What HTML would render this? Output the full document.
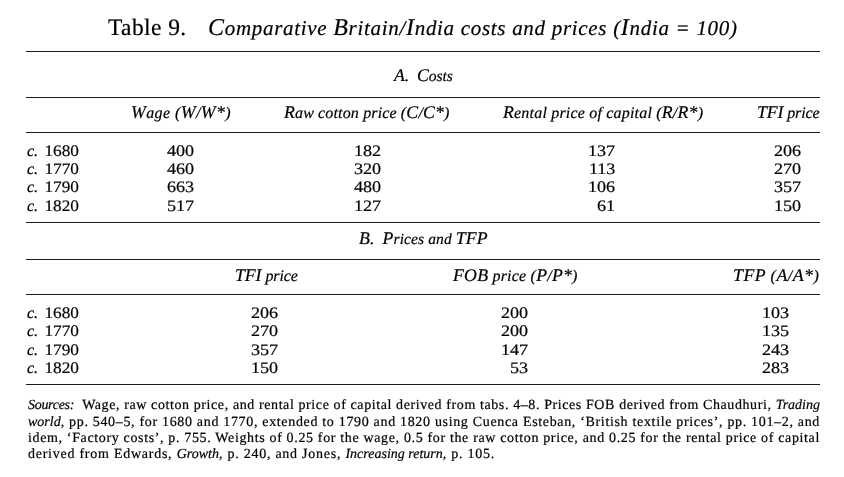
<!DOCTYPE html>
<html><head><meta charset="utf-8">
<style>
html,body{margin:0;padding:0;background:#fff;}
body{width:844px;height:477px;position:relative;overflow:hidden;font-family:"Liberation Serif",serif;text-rendering:geometricPrecision;color:#000;}
.r{position:absolute;left:26px;width:794px;height:1px;background:#1a1a1a;}
.e{position:absolute;white-space:nowrap;line-height:1;will-change:transform;-webkit-text-stroke:0.2px #000;}
.C{line-height:0;}
.s{position:absolute;white-space:nowrap;line-height:1;font-size:14px;will-change:transform;-webkit-text-stroke:0.2px #000;text-align:justify;text-align-last:justify;letter-spacing:0.747px;word-spacing:0.000px;}
.s.last{text-align-last:left;}
.s i{letter-spacing:0.000px;}
.s i.so{letter-spacing:-0.300px;}
</style></head><body>
<div class="e" id="t1" style="top:17.0px;font-size:23.5px;left:108.00px;letter-spacing:0.400px">Table 9.</div>
<div class="e" id="t2" style="top:17.5px;font-size:21px;font-style:italic;left:208.00px;letter-spacing:0.695px"><span class="C" style="font-size:24px">C</span>omparative <span class="C" style="font-size:24px">B</span>ritain/<span class="C" style="font-size:24px">I</span>ndia costs and prices (<span class="C" style="font-size:24px">I</span>ndia = 100)</div>
<div class="e" id="secA" style="top:68.5px;font-size:15.5px;font-style:italic;left:394.00px;letter-spacing:-0.025px"><span class="C" style="font-size:17.8px">A.</span>&nbsp; <span class="C" style="font-size:17.8px">C</span>osts</div>
<div class="e" id="hA1" style="top:106.4px;font-size:16px;font-style:italic;left:131.00px;letter-spacing:0.400px"><span class="C" style="font-size:17.8px">W</span>age (<span class="C" style="font-size:17.8px">W</span>/<span class="C" style="font-size:17.8px">W*</span>)</div>
<div class="e" id="hA2" style="top:106.4px;font-size:16px;font-style:italic;left:284.00px;letter-spacing:0.145px"><span class="C" style="font-size:17.8px">R</span>aw cotton price (<span class="C" style="font-size:17.8px">C</span>/<span class="C" style="font-size:17.8px">C*</span>)</div>
<div class="e" id="hA3" style="top:106.4px;font-size:16px;font-style:italic;left:503.00px;letter-spacing:0.193px"><span class="C" style="font-size:17.8px">R</span>ental price of capital (<span class="C" style="font-size:17.8px">R</span>/<span class="C" style="font-size:17.8px">R*</span>)</div>
<div class="e" id="hA4" style="top:106.4px;font-size:16px;font-style:italic;left:757.00px;letter-spacing:-0.113px"><span class="C" style="font-size:17.8px">TFI</span> price</div>
<div class="e" id="secB" style="top:231.6px;font-size:15.5px;font-style:italic;left:359.00px;letter-spacing:0.118px"><span class="C" style="font-size:17.8px">B.</span>&nbsp; <span class="C" style="font-size:17.8px">P</span>rices and <span class="C" style="font-size:17.8px">TFP</span></div>
<div class="e" id="hB1" style="top:268.8px;font-size:16px;font-style:italic;left:235.00px;letter-spacing:-0.075px"><span class="C" style="font-size:17.8px">TFI</span> price</div>
<div class="e" id="hB2" style="top:268.8px;font-size:16px;font-style:italic;left:453.00px;letter-spacing:0.213px"><span class="C" style="font-size:17.8px">FOB</span> price (<span class="C" style="font-size:17.8px">P</span>/<span class="C" style="font-size:17.8px">P*</span>)</div>
<div class="e" id="hB3" style="top:268.8px;font-size:16px;font-style:italic;left:733.00px;letter-spacing:0.489px"><span class="C" style="font-size:17.8px">TFP</span> (<span class="C" style="font-size:17.8px">A</span>/<span class="C" style="font-size:17.8px">A*</span>)</div>
<div class="e" id="cA0" style="top:143.5px;font-size:16px;font-style:italic;left:27.00px"><i>c.</i></div>
<div class="e" id="yA0" style="top:143.5px;font-size:16px;right:765.20px;transform:scaleX(1.0800);transform-origin:right center">1680</div>
<div class="e" id="cA1" style="top:161.5px;font-size:16px;font-style:italic;left:27.00px"><i>c.</i></div>
<div class="e" id="yA1" style="top:161.5px;font-size:16px;right:765.20px;transform:scaleX(1.0800);transform-origin:right center">1770</div>
<div class="e" id="cA2" style="top:179.5px;font-size:16px;font-style:italic;left:27.00px"><i>c.</i></div>
<div class="e" id="yA2" style="top:179.5px;font-size:16px;right:765.20px;transform:scaleX(1.0800);transform-origin:right center">1790</div>
<div class="e" id="cA3" style="top:199.0px;font-size:16px;font-style:italic;left:27.00px"><i>c.</i></div>
<div class="e" id="yA3" style="top:199.0px;font-size:16px;right:765.20px;transform:scaleX(1.0800);transform-origin:right center">1820</div>
<div class="e" id="cB0" style="top:305.5px;font-size:16px;font-style:italic;left:27.00px"><i>c.</i></div>
<div class="e" id="yB0" style="top:305.5px;font-size:16px;right:765.20px;transform:scaleX(1.0800);transform-origin:right center">1680</div>
<div class="e" id="cB1" style="top:323.5px;font-size:16px;font-style:italic;left:27.00px"><i>c.</i></div>
<div class="e" id="yB1" style="top:323.5px;font-size:16px;right:765.20px;transform:scaleX(1.0800);transform-origin:right center">1770</div>
<div class="e" id="cB2" style="top:342.5px;font-size:16px;font-style:italic;left:27.00px"><i>c.</i></div>
<div class="e" id="yB2" style="top:342.5px;font-size:16px;right:765.20px;transform:scaleX(1.0800);transform-origin:right center">1790</div>
<div class="e" id="cB3" style="top:361.0px;font-size:16px;font-style:italic;left:27.00px"><i>c.</i></div>
<div class="e" id="yB3" style="top:361.0px;font-size:16px;right:765.20px;transform:scaleX(1.0800);transform-origin:right center">1820</div>
<div class="e" id="nA00" style="top:143.5px;font-size:16px;right:650.20px;transform:scaleX(1.1300);transform-origin:right center">400</div>
<div class="e" id="nA01" style="top:161.5px;font-size:16px;right:650.20px;transform:scaleX(1.1300);transform-origin:right center">460</div>
<div class="e" id="nA02" style="top:179.5px;font-size:16px;right:650.20px;transform:scaleX(1.1300);transform-origin:right center">663</div>
<div class="e" id="nA03" style="top:199.0px;font-size:16px;right:650.20px;transform:scaleX(1.1300);transform-origin:right center">517</div>
<div class="e" id="nA10" style="top:143.5px;font-size:16px;right:463.40px;transform:scaleX(1.1300);transform-origin:right center">182</div>
<div class="e" id="nA11" style="top:161.5px;font-size:16px;right:463.40px;transform:scaleX(1.1300);transform-origin:right center">320</div>
<div class="e" id="nA12" style="top:179.5px;font-size:16px;right:463.40px;transform:scaleX(1.1300);transform-origin:right center">480</div>
<div class="e" id="nA13" style="top:199.0px;font-size:16px;right:463.40px;transform:scaleX(1.1300);transform-origin:right center">127</div>
<div class="e" id="nA20" style="top:143.5px;font-size:16px;right:229.00px;transform:scaleX(1.1300);transform-origin:right center">137</div>
<div class="e" id="nA21" style="top:161.5px;font-size:16px;right:229.00px;transform:scaleX(1.1300);transform-origin:right center">113</div>
<div class="e" id="nA22" style="top:179.5px;font-size:16px;right:229.00px;transform:scaleX(1.1300);transform-origin:right center">106</div>
<div class="e" id="nA23" style="top:199.0px;font-size:16px;right:229.00px;transform:scaleX(1.1300);transform-origin:right center">61</div>
<div class="e" id="nA30" style="top:143.5px;font-size:16px;right:43.20px;transform:scaleX(1.1300);transform-origin:right center">206</div>
<div class="e" id="nA31" style="top:161.5px;font-size:16px;right:43.20px;transform:scaleX(1.1300);transform-origin:right center">270</div>
<div class="e" id="nA32" style="top:179.5px;font-size:16px;right:43.20px;transform:scaleX(1.1300);transform-origin:right center">357</div>
<div class="e" id="nA33" style="top:199.0px;font-size:16px;right:43.20px;transform:scaleX(1.1300);transform-origin:right center">150</div>
<div class="e" id="nB00" style="top:305.5px;font-size:16px;right:566.00px;transform:scaleX(1.1300);transform-origin:right center">206</div>
<div class="e" id="nB01" style="top:323.5px;font-size:16px;right:566.00px;transform:scaleX(1.1300);transform-origin:right center">270</div>
<div class="e" id="nB02" style="top:342.5px;font-size:16px;right:566.00px;transform:scaleX(1.1300);transform-origin:right center">357</div>
<div class="e" id="nB03" style="top:361.0px;font-size:16px;right:566.00px;transform:scaleX(1.1300);transform-origin:right center">150</div>
<div class="e" id="nB10" style="top:305.5px;font-size:16px;right:316.00px;transform:scaleX(1.1300);transform-origin:right center">200</div>
<div class="e" id="nB11" style="top:323.5px;font-size:16px;right:316.00px;transform:scaleX(1.1300);transform-origin:right center">200</div>
<div class="e" id="nB12" style="top:342.5px;font-size:16px;right:316.00px;transform:scaleX(1.1300);transform-origin:right center">147</div>
<div class="e" id="nB13" style="top:361.0px;font-size:16px;right:316.00px;transform:scaleX(1.1300);transform-origin:right center">53</div>
<div class="e" id="nB20" style="top:305.5px;font-size:16px;right:55.20px;transform:scaleX(1.1300);transform-origin:right center">103</div>
<div class="e" id="nB21" style="top:323.5px;font-size:16px;right:55.20px;transform:scaleX(1.1300);transform-origin:right center">135</div>
<div class="e" id="nB22" style="top:342.5px;font-size:16px;right:55.20px;transform:scaleX(1.1300);transform-origin:right center">243</div>
<div class="e" id="nB23" style="top:361.0px;font-size:16px;right:55.20px;transform:scaleX(1.1300);transform-origin:right center">283</div>
<div class="r" style="top:51px"></div><div class="r" style="top:97px"></div><div class="r" style="top:132px"></div><div class="r" style="top:222px"></div><div class="r" style="top:259px"></div><div class="r" style="top:294px"></div><div class="r" style="top:384px"></div>
<div class="s" id="s1" style="top:398.8px;left:28.00px;width:792.00px;letter-spacing:0.582px"><i class="so">Sources:</i>&nbsp; Wage, raw cotton price, and rental price of capital derived from tabs. 4&ndash;8. Prices FOB derived from Chaudhuri, <i>Trading</i></div>
<div class="s" id="s2" style="top:416.0px;left:28.00px;width:792.00px;letter-spacing:0.658px"><i>world</i>, pp. 540&ndash;5, for 1680 and 1770, extended to 1790 and 1820 using Cuenca Esteban, &lsquo;British textile prices&rsquo;, pp. 101&ndash;2, and</div>
<div class="s" id="s3" style="top:432.0px;left:28.00px;width:792.00px;letter-spacing:0.635px">idem, &lsquo;Factory costs&rsquo;, p. 755. Weights of 0.25 for the wage, 0.5 for the raw cotton price, and 0.25 for the rental price of capital</div>
<div class="s last" id="s4" style="top:447.9px;left:28.00px;width:792.00px;letter-spacing:0.747px">derived from Edwards, <i>Growth</i>, p. 240, and Jones, <i>Increasing return</i>, p. 105.</div>
</body></html>
